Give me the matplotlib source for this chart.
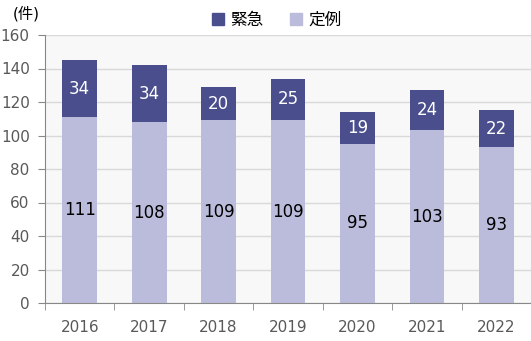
import matplotlib
matplotlib.use("Agg")
import matplotlib.pyplot as plt
from matplotlib.patches import Patch
from matplotlib.ticker import FixedLocator
import numpy as np

plt.rcParams["font.family"] = ["DejaVu Sans", "Noto Sans CJK JP"]

years = ["2016", "2017", "2018", "2019", "2020", "2021", "2022"]
teirei = [111, 108, 109, 109, 95, 103, 93]   # 定例
kinkyu = [34, 34, 20, 25, 19, 24, 22]        # 緊急
yticks = [0, 20, 40, 60, 80, 100, 120, 140, 160]

dark = "#4a4e8c"
light = "#bbbcdb"
tick_color = "#595959"

fig = plt.figure(figsize=(5.31, 3.41), dpi=100)
ax = fig.add_axes([45 / 531, 38 / 341, 486 / 531, 268 / 341])
ax.set_facecolor("#f8f8f8")

x = np.arange(len(years))
ax.bar(x, teirei, width=0.5, color=light, zorder=2)
ax.bar(x, kinkyu, width=0.5, bottom=teirei, color=dark, zorder=2)

for xi, t, k in zip(x, teirei, kinkyu):
    ax.text(xi, t / 2, str(t), ha="center", va="center", fontsize=12, color="black", zorder=3)
    ax.text(xi, t + k / 2, str(k), ha="center", va="center", fontsize=12, color="white", zorder=3)

ax.set_xlim(-0.5, len(years) - 0.5)
ax.set_ylim(0, 160)
ax.set_yticks(yticks)
ax.grid(axis="y", color="#d9d9d9", linewidth=1, zorder=1)

ax.set_xticks(x)
ax.set_xticklabels(years)
ax.xaxis.set_minor_locator(FixedLocator(np.arange(len(years) + 1) - 0.5))
ax.tick_params(axis="x", which="major", length=0, pad=12, labelsize=11, labelcolor=tick_color)
ax.tick_params(axis="x", which="minor", length=5, color="#888888")
ax.tick_params(axis="y", length=5, color="#888888", labelsize=11, labelcolor=tick_color, pad=6)

for s in ["top", "right"]:
    ax.spines[s].set_visible(False)
for s in ["left", "bottom"]:
    ax.spines[s].set_color("#888888")

fig.text(13 / 531, 1 - 14 / 341, "(件)", fontsize=11, color="black", va="center", ha="left")

handles = [Patch(color=dark, label="緊急"), Patch(color=light, label="定例")]
fig.legend(handles=handles, loc="center", bbox_to_anchor=(277 / 531, 1 - 20 / 341), ncol=2,
           frameon=False, fontsize=12, handlelength=0.7, handleheight=0.7,
           handletextpad=0.4, columnspacing=1.6)

fig.savefig("out.png", dpi=100)
